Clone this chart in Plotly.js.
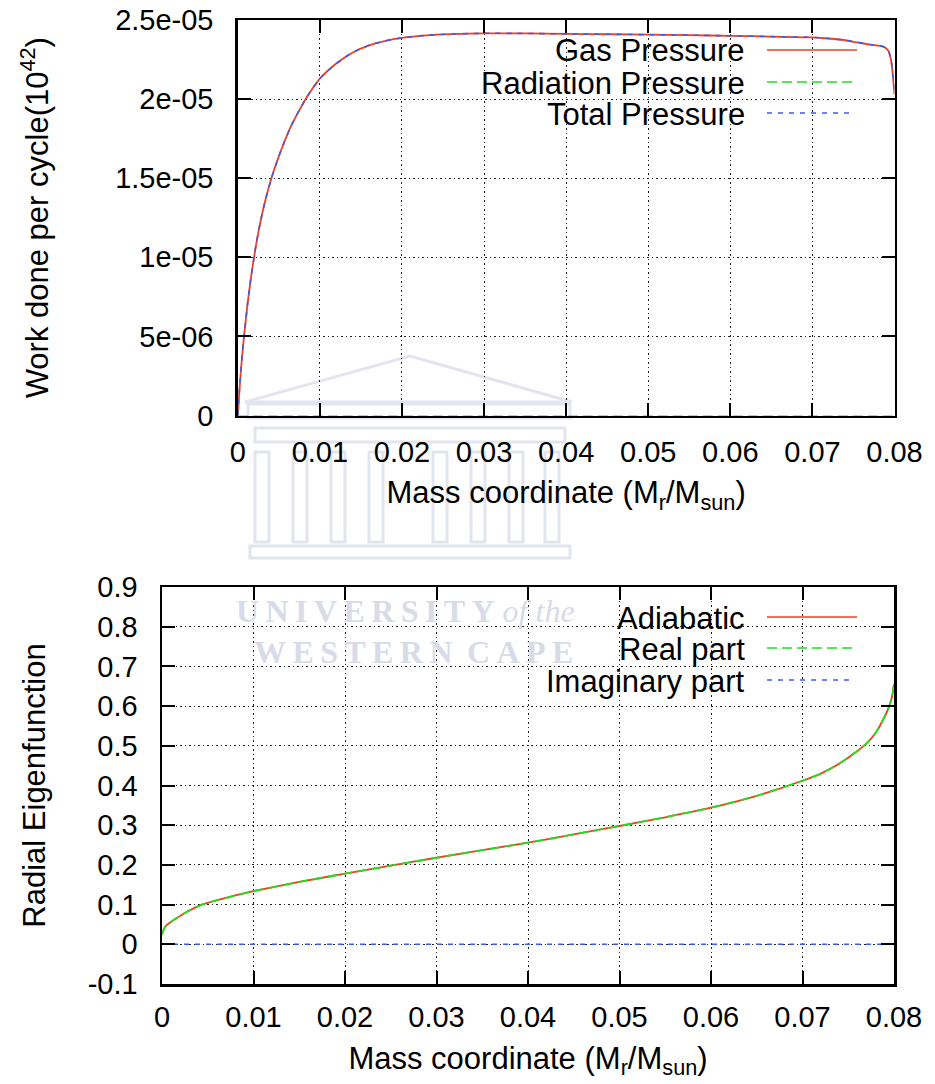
<!DOCTYPE html>
<html>
<head>
<meta charset="utf-8">
<script src="https://cdn.plot.ly/plotly-3.0.1.min.js"></script>
<style>html,body{margin:0;padding:0;background:#fff;}#chart{width:935px;height:1084px;}</style>
</head>
<body>
<div id="chart"></div>
<script>
// ---------- Top panel data: work done per cycle ----------
const massTop = [0, 0.0002, 0.0005, 0.0008, 0.0012, 0.0016, 0.0021, 0.0027, 0.0034, 0.0041, 0.0048, 0.0056, 0.0065, 0.0075, 0.0085, 0.01, 0.012, 0.014, 0.016, 0.018, 0.02, 0.023, 0.026, 0.03, 0.035, 0.04, 0.045, 0.05, 0.055, 0.06, 0.065, 0.07, 0.072, 0.074, 0.0755, 0.077, 0.078, 0.0786, 0.079, 0.0793, 0.0796, 0.0798, 0.08];
const gasPressure = [0, 1.6e-6, 3.6e-6, 5.2e-6, 7.1e-6, 8.7e-6, 1.04e-5, 1.21e-5, 1.37e-5, 1.5e-5, 1.61e-5, 1.72e-5, 1.83e-5, 1.93e-5, 2.02e-5, 2.13e-5, 2.225e-5, 2.295e-5, 2.34e-5, 2.368e-5, 2.387e-5, 2.403e-5, 2.411e-5, 2.416e-5, 2.415e-5, 2.412e-5, 2.41e-5, 2.407e-5, 2.404e-5, 2.40e-5, 2.395e-5, 2.39e-5, 2.383e-5, 2.372e-5, 2.358e-5, 2.345e-5, 2.338e-5, 2.332e-5, 2.32e-5, 2.30e-5, 2.24e-5, 2.15e-5, 2.03e-5];
const radiationPressure = [0, 0, 0, 0, 0, 0, 0, 0, 0, 0, 0, 0, 0, 0, 0, 0, 0, 0, 0, 0, 0, 0, 0, 0, 0, 0, 0, 0, 0, 0, 0, 0, 0, 0, 0, 0, 0, 0, 0, 0, 0, 0, 0];
const totalPressure = [0, 1.6e-6, 3.6e-6, 5.2e-6, 7.1e-6, 8.7e-6, 1.04e-5, 1.21e-5, 1.37e-5, 1.5e-5, 1.61e-5, 1.72e-5, 1.83e-5, 1.93e-5, 2.02e-5, 2.13e-5, 2.225e-5, 2.295e-5, 2.34e-5, 2.368e-5, 2.387e-5, 2.403e-5, 2.411e-5, 2.416e-5, 2.415e-5, 2.412e-5, 2.41e-5, 2.407e-5, 2.404e-5, 2.40e-5, 2.395e-5, 2.39e-5, 2.383e-5, 2.372e-5, 2.358e-5, 2.345e-5, 2.338e-5, 2.332e-5, 2.32e-5, 2.30e-5, 2.24e-5, 2.15e-5, 2.03e-5];
const topYTickVals = [0, 5e-6, 1e-5, 1.5e-5, 2e-5, 2.5e-5];
const topYTickText = ["0", "5e-06", "1e-05", "1.5e-05", "2e-05", "2.5e-05"];

// ---------- Bottom panel data: radial eigenfunction ----------
const massBottom = [0, 0.0002, 0.0005, 0.001, 0.0016, 0.0025, 0.0034, 0.0045, 0.006, 0.008, 0.01, 0.015, 0.02, 0.025, 0.03, 0.035, 0.04, 0.045, 0.05, 0.055, 0.06, 0.065, 0.07, 0.072, 0.074, 0.076, 0.077, 0.078, 0.0788, 0.0794, 0.0798, 0.08];
const adiabatic = [0.025, 0.038, 0.048, 0.057, 0.066, 0.079, 0.09, 0.101, 0.111, 0.123, 0.134, 0.157, 0.178, 0.198, 0.218, 0.237, 0.256, 0.277, 0.298, 0.32, 0.344, 0.374, 0.412, 0.430, 0.455, 0.487, 0.506, 0.533, 0.565, 0.595, 0.625, 0.655];
const realPart = [0.025, 0.038, 0.048, 0.057, 0.066, 0.079, 0.09, 0.101, 0.111, 0.123, 0.134, 0.157, 0.178, 0.198, 0.218, 0.237, 0.256, 0.277, 0.298, 0.32, 0.344, 0.374, 0.412, 0.430, 0.455, 0.487, 0.506, 0.533, 0.565, 0.595, 0.625, 0.655];
const imaginaryPart = [0, 0, 0, 0, 0, 0, 0, 0, 0, 0, 0, 0, 0, 0, 0, 0, 0, 0, 0, 0, 0, 0, 0, 0, 0, 0, 0, 0, 0, 0, 0, 0];
const bottomYTickVals = [-0.1, 0, 0.1, 0.2, 0.3, 0.4, 0.5, 0.6, 0.7, 0.8, 0.9];
const bottomYTickText = ["-0.1", "0", "0.1", "0.2", "0.3", "0.4", "0.5", "0.6", "0.7", "0.8", "0.9"];

const xTickVals = [0, 0.01, 0.02, 0.03, 0.04, 0.05, 0.06, 0.07, 0.08];
const xTickText = ["0", "0.01", "0.02", "0.03", "0.04", "0.05", "0.06", "0.07", "0.08"];

const topNames = ["Gas Pressure", "Radiation Pressure", "Total Pressure"];
const bottomNames = ["Adiabatic", "Real part", "Imaginary part"];

// ---------- styles ----------
const RED = '#f43c1e', GREEN = '#1fe01f', BLUE = '#3a5cf0';
const DASH_G = '10px,5px', DASH_B = '5px,6px';
const FONT = 'Liberation Sans, Arial, Helvetica, sans-serif';
const W = 935, H = 1084;
const px = v => v / W;
const py = v => 1 - v / H;
const SM = 0.6;

const traces = [
  {x: massTop, y: radiationPressure, name: topNames[1], mode: 'lines', line: {color: GREEN, width: 1.2, dash: DASH_G}, xaxis: 'x', yaxis: 'y'},
  {x: massTop, y: gasPressure, name: topNames[0], mode: 'lines', line: {color: RED, width: 1.8, shape: 'spline', smoothing: SM}, xaxis: 'x', yaxis: 'y'},
  {x: massTop, y: totalPressure, name: topNames[2], mode: 'lines', line: {color: BLUE, width: 1.6, dash: DASH_B, shape: 'spline', smoothing: SM}, xaxis: 'x', yaxis: 'y'},
  {x: massBottom, y: adiabatic, name: bottomNames[0], mode: 'lines', line: {color: RED, width: 1.8, shape: 'spline', smoothing: SM}, xaxis: 'x2', yaxis: 'y2'},
  {x: massBottom, y: realPart, name: bottomNames[1], mode: 'lines', line: {color: GREEN, width: 1.8, dash: DASH_G, shape: 'spline', smoothing: SM}, xaxis: 'x2', yaxis: 'y2'},
  {x: massBottom, y: imaginaryPart, name: bottomNames[2], mode: 'lines', line: {color: BLUE, width: 1.6, dash: DASH_B}, xaxis: 'x2', yaxis: 'y2'}
];

const TICK = 29, BIG = 31;
const axisCommon = {
  showline: true, linecolor: '#000', linewidth: 2.5, mirror: 'ticks',
  ticks: 'inside', ticklen: 13, tickwidth: 2, tickcolor: '#000',
  showgrid: true, gridcolor: '#222', gridwidth: 1, griddash: '1.5px,3px',
  zeroline: false, automargin: false,
  tickfont: {family: FONT, size: TICK, color: '#000'},
  tickmode: 'array'
};

const titleFont = {family: FONT, size: BIG, color: '#000'};

const layout = {
  width: W, height: H,
  margin: {l: 0, r: 0, t: 0, b: 0},
  paper_bgcolor: '#fff', plot_bgcolor: 'rgba(0,0,0,0)',
  showlegend: false,
  font: {family: FONT, color: '#000'},
  xaxis: Object.assign({}, axisCommon, {
    domain: [px(237.8), px(894.5)], range: [0, 0.08], anchor: 'y',
    tickvals: xTickVals, ticktext: xTickText, ticklabelstandoff: 9,
    title: {text: 'Mass coordinate (M<sub>r</sub>/M<sub>sun</sub>)', font: titleFont, standoff: 15}
  }),
  yaxis: Object.assign({}, axisCommon, {
    domain: [py(415.5), py(20)], range: [0, 2.5e-5], anchor: 'x',
    tickvals: topYTickVals, ticktext: topYTickText, ticklabelstandoff: 16,
    title: {text: 'Work done per cycle(10<sup>42</sup>)', font: titleFont, standoff: 58}
  }),
  xaxis2: Object.assign({}, axisCommon, {
    domain: [px(162), px(894)], range: [0, 0.08], anchor: 'y2',
    tickvals: xTickVals, ticktext: xTickText, ticklabelstandoff: 6,
    title: {text: 'Mass coordinate (M<sub>r</sub>/M<sub>sun</sub>)', font: titleFont, standoff: 15}
  }),
  yaxis2: Object.assign({}, axisCommon, {
    domain: [py(984), py(587)], range: [-0.1, 0.9], anchor: 'x2',
    tickvals: bottomYTickVals, ticktext: bottomYTickText, ticklabelstandoff: 16,
    title: {text: 'Radial Eigenfunction', font: titleFont, standoff: 33}
  }),
  shapes: [],
  annotations: []
};

// faint watermark (building outline) behind everything
const WM = '#e3e5ee';
const wmShapes = [
  {type: 'path', path: `M ${px(245)} ${py(402)} L ${px(410)} ${py(356)} L ${px(572)} ${py(402)} Z`},
  {type: 'rect', x0: px(248), x1: px(570), y0: py(404), y1: py(418)},
  {type: 'rect', x0: px(255), x1: px(565), y0: py(428), y1: py(442)},
  {type: 'rect', x0: px(250), x1: px(570), y0: py(546), y1: py(558)}
];
wmShapes.forEach(s => {
  layout.shapes.push(Object.assign({xref: 'paper', yref: 'paper', layer: 'below', line: {color: WM, width: 3}, fillcolor: 'rgba(0,0,0,0)'}, s));
});
[262, 300, 338, 376, 440, 478, 516, 552].forEach(cx => {
  layout.shapes.push({type: 'rect', xref: 'paper', yref: 'paper', layer: 'below',
    x0: px(cx - 7), x1: px(cx + 7), y0: py(452), y1: py(542), line: {color: WM, width: 3}, fillcolor: 'rgba(0,0,0,0)'});
});
layout.annotations.push({xref: 'paper', yref: 'paper', x: px(405), y: py(611), xanchor: 'center', yanchor: 'middle', showarrow: false,
  text: '<b>U\u2009N\u2009I\u2009V\u2009E\u2009R\u2009S\u2009I\u2009T\u2009Y</b> <i>of the</i>', font: {family: 'Liberation Serif, DejaVu Serif, serif', size: 32, color: '#d8dbe8'}});
layout.annotations.push({xref: 'paper', yref: 'paper', x: px(413), y: py(652), xanchor: 'center', yanchor: 'middle', showarrow: false,
  text: '<b>W\u2009E\u2009S\u2009T\u2009E\u2009R\u2009N\u2009 C\u2009A\u2009P\u2009E</b>', font: {family: 'Liberation Serif, DejaVu Serif, serif', size: 32, color: '#d8dbe8'}});

// opaque key boxes (drawn over grid, under traces)
layout.shapes.push({type: 'rect', xref: 'paper', yref: 'paper', layer: 'between', x0: px(408), x1: px(876), y0: py(22), y1: py(130), fillcolor: '#fff', line: {width: 0}});
layout.shapes.push({type: 'rect', xref: 'paper', yref: 'paper', layer: 'between', x0: px(483), x1: px(875), y0: py(598), y1: py(697), fillcolor: '#fff', line: {width: 0}});

// key entries (text right-aligned, sample to the right)
const keyFont = {family: FONT, size: BIG, color: '#000'};
const keyStyles = [{color: RED, dash: 'solid'}, {color: GREEN, dash: DASH_G}, {color: BLUE, dash: DASH_B}];
const topKeyY = [50, 82, 113], bottomKeyY = [617, 648, 680];
function addKey(names, ys) {
  names.forEach((n, i) => {
    layout.annotations.push({xref: 'paper', yref: 'paper', x: px(747), y: py(ys[i] + 1), xanchor: 'right', yanchor: 'middle',
      showarrow: false, text: n, font: keyFont});
    layout.shapes.push({type: 'line', xref: 'paper', yref: 'paper', layer: 'above',
      x0: px(767), x1: px(i === 2 ? 851 : 857), y0: py(ys[i]), y1: py(ys[i]),
      line: {color: keyStyles[i].color, width: 1.6, dash: keyStyles[i].dash}});
  });
}
addKey(topNames, topKeyY);
addKey(bottomNames, bottomKeyY);

Plotly.newPlot('chart', traces, layout, {staticPlot: true, displayModeBar: false});
</script>
</body>
</html>
